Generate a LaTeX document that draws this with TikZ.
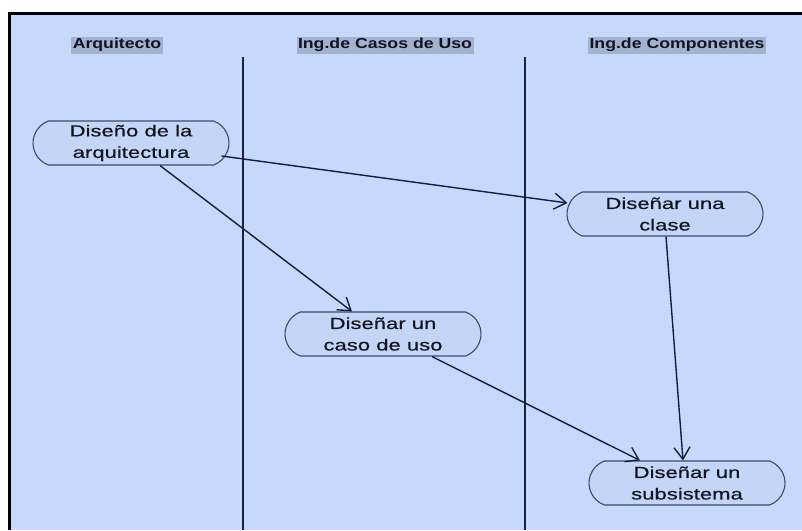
\documentclass[tikz,border=0pt]{standalone}
\usepackage{fontspec}
\usetikzlibrary{shapes.misc,arrows.meta,calc}
\newfontfamily\hdrfont[FakeStretch=1.22]{Liberation Sans}
\newfontfamily\actfont[FakeStretch=1.38,FakeBold=0.4]{Liberation Sans}
\definecolor{bgblue}{HTML}{C6D8FB}
\definecolor{hdrhl}{HTML}{A4B2D0}
\definecolor{nodefill}{HTML}{C4D5F7}
\definecolor{nodeline}{HTML}{3C4A72}
\definecolor{lanecol}{HTML}{1B2240}
\definecolor{arrowcol}{HTML}{161C3C}
\definecolor{txtcol}{HTML}{101420}
\tikzset{
  lanehdr/.style={fill=hdrhl, text=txtcol, font=\hdrfont\bfseries\fontsize{14.5}{17}\selectfont,
    inner xsep=1.5pt, inner ysep=0pt, minimum height=17pt},
  activity/.style={rounded rectangle, rounded rectangle arc length=140, draw=nodeline, line width=1.1pt,
    fill=nodefill, text=txtcol, minimum width=196pt, minimum height=44pt, inner sep=0pt,
    align=center, font=\actfont\fontsize{16}{21.5}\selectfont},
  flow/.style={draw=arrowcol, line width=1.4pt, -{Straight Barb[length=12pt,width=16pt,line width=1.4pt]}},
  laneline/.style={draw=lanecol, line width=1.5pt}
}
\begin{document}
\begin{tikzpicture}[x=1pt,y=-1pt]
\useasboundingbox (0,0) rectangle (802,530);
\fill[white] (0,0) rectangle (802,530);
\fill[bgblue] (9,13) rectangle (802,530);
\fill[black] (7.5,11.5) rectangle (802,14.5);
\fill[black] (7.5,11.5) rectangle (10.5,530);
% lane headers
\node[lanehdr] (h1) at (117,45) {Arquitecto};
\node[lanehdr] (h2) at (385,45) {Ing.de Casos de Uso};
\node[lanehdr] (h3) at (677,45) {Ing.de Componentes};
% lane separators
\coordinate (l1t) at (243,57);
\coordinate (l1b) at (243,530);
\coordinate (l2t) at (525,57);
\coordinate (l2b) at (525,530);
\draw[laneline] (l1t) -- (l1b);
\draw[laneline] (l2t) -- (l2b);
% activities
\node[activity] (n1) at (131,143) {Diseño de la\\arquitectura};
\node[activity] (n2) at (665,214) {Diseñar una\\clase};
\node[activity] (n3) at (383,334) {Diseñar un\\caso de uso};
\node[activity] (n4) at (687,483) {Diseñar un\\subsistema};
% flows
\draw[flow] ($(n1.east)+(-8,13)$) -- ($(n2.west)+(1,-11)$);
\draw[flow] ($(n1.south)+(29,0)$) -- ($(n3.north)+(-31,0)$);
\draw[flow] ($(n3.south)+(49,0)$) -- ($(n4.north)+(-47,0)$);
\draw[flow] ($(n2.south)+(1,0)$) -- ($(n4.north)+(-4,0)$);
\end{tikzpicture}
\end{document}
